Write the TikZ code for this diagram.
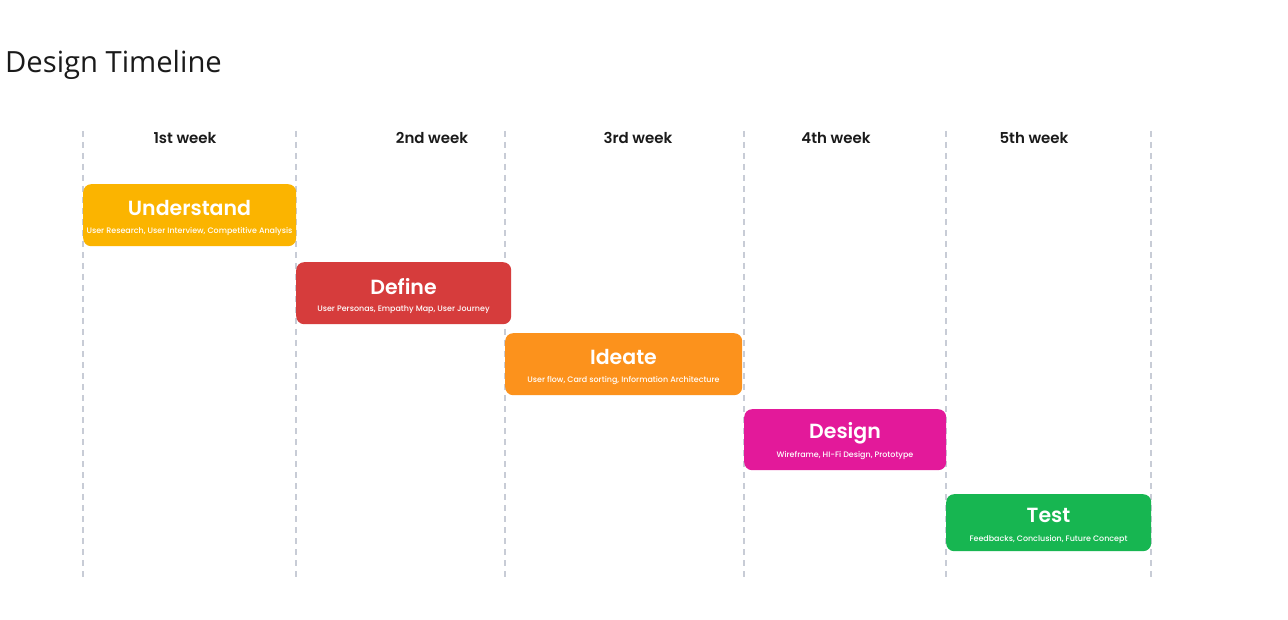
\documentclass[tikz,border=0pt]{standalone}
\usepackage{fontspec}
\setmainfont{Poppins}
\newfontfamily\popsemi{Poppins SemiBold}
\newfontfamily\popmed{Poppins Medium}
\newfontfamily\titlefont{Open Sans}
\definecolor{cUnd}{HTML}{FBB400}
\definecolor{cDef}{HTML}{D63C3C}
\definecolor{cIde}{HTML}{FC921C}
\definecolor{cDes}{HTML}{E3199A}
\definecolor{cTes}{HTML}{17B651}
\definecolor{cGrid}{HTML}{C8CCD6}
\definecolor{cInk}{HTML}{1A1A1A}
\tikzset{
  x=1pt,y=-1pt,
  gridline/.style={draw=cGrid,line width=1.5pt,dash pattern=on 6pt off 5pt},
  weeklabel/.style={font=\popsemi\fontsize{15}{15}\selectfont,text=cInk,anchor=center,inner sep=0},
  phasebox/.style={rounded corners=8pt,draw=none,inner sep=0,anchor=north west},
  phasetitle/.style={font=\popsemi\fontsize{20.5}{20.5}\selectfont,text=white,anchor=center,inner sep=0},
  phasesub/.style={font=\popmed\fontsize{7.95}{7.95}\selectfont,text=white,anchor=center,inner sep=0}
}
\begin{document}
\begin{tikzpicture}
\useasboundingbox[fill=white] (0,0) rectangle (1288,620);
\node[anchor=base west,inner sep=0,font=\titlefont\fontsize{29.2}{29.2}\selectfont,text=cInk] (title) at (5,73) {Design Timeline};
% grid lines
\foreach \i/\x in {0/83,1/296,2/505,3/744,4/946,5/1151}{
  \coordinate (gt\i) at (\x,131);
  \coordinate (gb\i) at (\x,578);
  \draw[gridline] (gt\i) -- (gb\i);
}
\node[weeklabel] (w1) at (185,138) {1st week};
\node[weeklabel] (w2) at (432,138) {2nd week};
\node[weeklabel] (w3) at (638,138) {3rd week};
\node[weeklabel] (w4) at (836,138) {4th week};
\node[weeklabel] (w5) at (1034,138) {5th week};
% boxes
\node[phasebox,fill=cUnd,minimum width=213pt,minimum height=62pt] (b1) at (83,184) {};
\node[phasetitle] (t1) at (189.5,208.5) {Understand};
\node[phasesub] (s1) at (189.5,231.5) {User Research, User Interview, Competitive Analysis};
\node[phasebox,fill=cDef,minimum width=215pt,minimum height=62pt] (b2) at (296,262) {};
\node[phasetitle] (t2) at (403.5,286.5) {Define};
\node[phasesub] (s2) at (403.5,309.5) {User Personas, Empathy Map, User Journey};
\node[phasebox,fill=cIde,minimum width=237pt,minimum height=62pt] (b3) at (505,333) {};
\node[phasetitle] (t3) at (623.5,357.5) {Ideate};
\node[phasesub] (s3) at (623.5,380.5) {User flow, Card sorting, Information Architecture};
\node[phasebox,fill=cDes,minimum width=202pt,minimum height=61pt] (b4) at (744,409) {};
\node[phasetitle] (t4) at (845,433.5) {Design};
\node[phasesub] (s4) at (845,455.5) {Wireframe, HI-Fi Design, Prototype};
\node[phasebox,fill=cTes,minimum width=205pt,minimum height=57pt] (b5) at (946,494) {};
\node[phasetitle] (t5) at (1048.5,515.5) {Test};
\node[phasesub] (s5) at (1048.5,539.5) {Feedbacks, Conclusion, Future Concept};
\end{tikzpicture}
\end{document}
